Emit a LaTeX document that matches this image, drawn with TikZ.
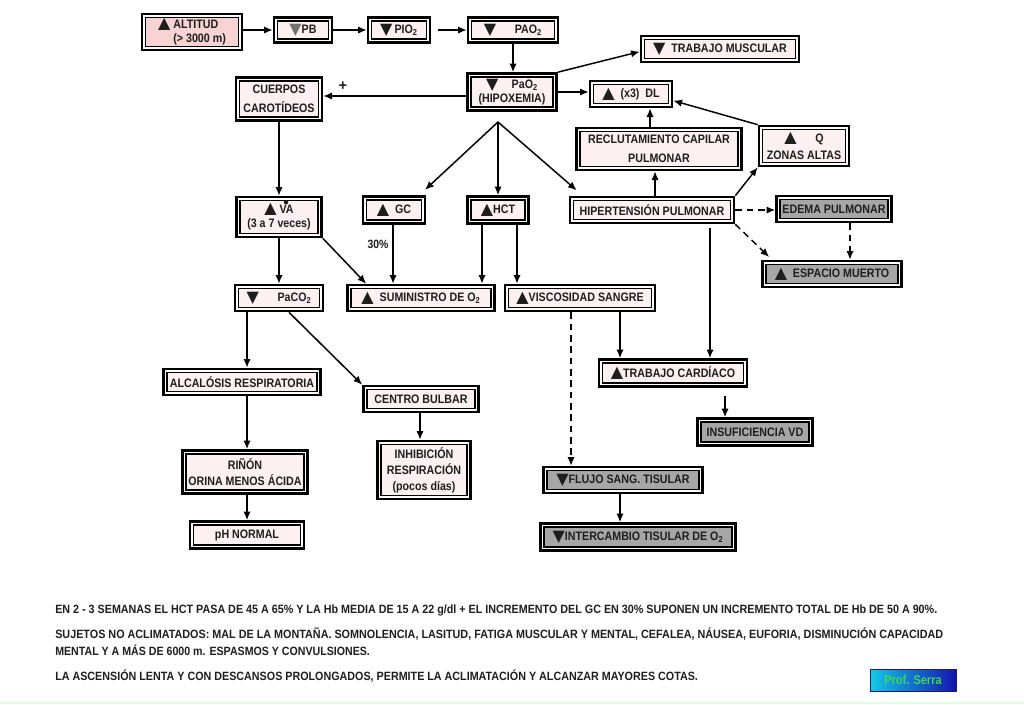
\documentclass[tikz,border=0pt]{standalone}
\usepackage{fontspec}
\usepackage{graphicx}
\setmainfont{Liberation Sans}
\newfontfamily\nf[FakeStretch=0.87]{Liberation Sans}
\newfontfamily\symf{DejaVu Sans}
\usetikzlibrary{arrows.meta,calc}
\definecolor{boxfill}{HTML}{FCF0F0}
\definecolor{altfill}{HTML}{F7D3D3}
\definecolor{grayfill}{HTML}{A6A6A6}
\definecolor{txt}{HTML}{1E1E1E}
\definecolor{profborder}{HTML}{1A1A70}
\definecolor{profleft}{HTML}{14C8E6}
\definecolor{profright}{HTML}{1414AF}
\definecolor{proftext}{HTML}{3CD75A}
\newcommand\tup{{\symf\fontsize{12}{12}\selectfont\raisebox{-0.5pt}{▲}}}
\newcommand\tdn{{\symf\fontsize{12}{12}\selectfont\raisebox{-0.5pt}{▼}}}
\newcommand\tdng{{\color{black!55}\symf\fontsize{12}{12}\selectfont\raisebox{-0.5pt}{▼}}}
\newcommand\btxt{\nf\bfseries\fontsize{9}{10}\selectfont}
\tikzset{
  box/.style={draw=black, line width=1.1pt, double=white, double distance=1.1pt,
    preaction={draw=black, line width=5pt}, fill=boxfill, inner sep=0pt,
    outer sep=2.5pt, align=center, text=txt,
    font=\nf\bfseries\fontsize{9.2}{11}\selectfont},
  gbox/.style={box, fill=grayfill},
  wh/.style 2 args={minimum width={(#1-6)*0.75}, minimum height={(#2-6)*0.75}},
  arr/.style={-{Latex[length=6.5pt,width=5.5pt]}, line width=1.1pt},
  darr/.style={arr, dash pattern=on 5pt off 3.5pt},
  lbl/.style={font=\nf\bfseries\fontsize{9}{10}\selectfont, inner sep=0pt, text=txt}
}
\begin{document}
\begin{tikzpicture}[x=0.75pt,y=-0.75pt]
\useasboundingbox (0,0) rectangle (1024,704);
\fill[white] (0,0) rectangle (1024,704);
\draw[green!12, line width=1pt] (0,703) -- (1024,703);

% top row
\node[box, wh={102}{38}, fill=altfill, align=left] (alt) at (192,32) {\tup\ ALTITUD\\[0pt]\phantom{\tup\ }(> 3000 m)};
\node[box, wh={60}{27}] (pb) at (303,30) {\tdng PB};
\node[box, wh={64}{27}] (pio) at (399,30) {\tdn\,PIO\textsubscript{2}};
\node[box, wh={92}{27}] (pao) at (513,30) {\tdn\hspace{14pt}PAO\textsubscript{2}};

\node[box, wh={91}{39}] (pa) at (512,92) {\tdn\hspace{10pt}PaO\textsubscript{2}\\[-1pt](HIPOXEMIA)};
\node[box, wh={160}{28}] (tm) at (720,49) {\tdn\ \ TRABAJO MUSCULAR};
\node[box, wh={84}{28}] (dl) at (631,94) {\tup\ \ (x3)\ \ DL};
\node[box, wh={88}{45}] (cue) at (279,99) {CUERPOS\\[3pt]CAROTÍDEOS};
\node[box, wh={167}{44}] (rec) at (659,149) {RECLUTAMIENTO CAPILAR\\[3pt]PULMONAR};
\node[box, wh={92}{42}] (q) at (804,146) {\tup\hspace{14pt}Q\\[2pt]ZONAS ALTAS};

% middle
\node[box, wh={87}{42}] (va) at (279,217) {\tup\ VA\\[0pt](3 a 7 veces)};
\fill[txt] ($(va.center)+(7,-14.8)$) circle (2.2);
\node[box, wh={64}{29}] (gc) at (394,210) {\tup\ \ GC};
\node[box, wh={63}{29}] (hct) at (498,210) {\tup HCT};
\node[box, wh={166}{28}] (hip) at (652,210) {HIPERTENSIÓN PULMONAR};
\node[gbox, wh={117}{28}] (ede) at (834,209) {EDEMA PULMONAR};
\node[gbox, wh={141}{28}] (esp) at (832,274) {\tup\ \ ESPACIO MUERTO};

\node[box, wh={90}{28}] (paco) at (279,298) {\tdn\hspace{14pt}PaCO\textsubscript{2}};
\node[box, wh={149}{28}] (sum) at (421,298) {\tup\ \ SUMINISTRO DE O\textsubscript{2}};
\node[box, wh={152}{28}] (visc) at (580,298) {\tup VISCOSIDAD SANGRE};

\node[box, wh={150}{29}] (tc) at (673,373) {\tup TRABAJO CARDÍACO};
\node[gbox, wh={117}{29}] (ins) at (755,432) {INSUFICIENCIA VD};
\node[box, wh={159}{28}] (alc) at (242,382) {ALCALÓSIS RESPIRATORIA};
\node[box, wh={117}{28}] (cb) at (421,399) {CENTRO BULBAR};
\node[box, wh={95}{60}] (inh) at (424,470) {INHIBICIÓN\\[1pt]RESPIRACIÓN\\[1pt](pocos días)};
\node[box, wh={127}{45}] (rin) at (245,472) {RIÑÓN\\[1pt]ORINA MENOS ÁCIDA};
\node[box, wh={116}{29}] (ph) at (247,535) {pH NORMAL};
\node[gbox, wh={161}{28}] (flu) at (623,480) {\tdn FLUJO SANG. TISULAR};
\node[gbox, wh={197}{29}] (int) at (638,537) {\tdn INTERCAMBIO TISULAR DE O\textsubscript{2}};

% labels
\node[lbl, font=\bfseries\fontsize{11}{11}\selectfont] (plus) at (343,86) {+};
\node[lbl] (pct) at (378,244) {30\%};

% connectors
\draw[arr] (alt.east |- pb.west) -- (pb.west);
\draw[arr] (pb.east) -- (pio.west);
\draw[arr, shorten <=5pt] (pio.east) -- (pao.west);
\draw[arr] (pao.south) -- (pao.south |- pa.north);
\draw[arr] ([yshift=-3pt]pa.west) -- ([yshift=-3pt]pa.west -| cue.east);
\draw[arr] (pa.north east) -- ([yshift=-2pt]tm.west);
\draw[arr] (pa.east) -- (pa.east -| dl.west);
\draw[arr] ([xshift=-6.75pt]rec.north) -- ([xshift=-6.75pt]rec.north |- dl.south);
\draw[arr] (q.north west) -- ([yshift=-5pt]dl.east);

\coordinate (apex) at (498,122);
\draw[arr] (apex) -- ([xshift=-1pt,yshift=4pt]gc.north east);
\draw[arr] (apex) -- (apex |- hct.north);
\draw[arr] (apex) -- ([xshift=6pt,yshift=4pt]hip.north west);

\draw[arr] (cue.south) -- (va.north);
\draw[arr] (va.south) -- (paco.north);
\draw[arr] (va.south east) -- ([xshift=15pt]sum.north west);
\draw[arr] ([xshift=-0.75pt]gc.south) -- ([xshift=-0.75pt]gc.south |- sum.north);
\draw[arr] ([xshift=-12pt]hct.south) -- ([xshift=-12pt]hct.south |- sum.north);
\draw[arr] ([xshift=14.25pt]hct.south) -- ([xshift=14.25pt]hct.south |- visc.north);

\draw[arr] ([xshift=2.25pt]hip.north) -- ([xshift=2.25pt]hip.north |- rec.south);
\draw[arr] (hip.north east) -- (q.south west);
\draw[darr] (hip.east) -- (hip.east -| ede.west);
\draw[darr] (hip.south east) -- ([xshift=6pt,yshift=2pt]esp.north west);
\draw[darr] ([xshift=12pt]ede.south) -- ([xshift=12pt]ede.south |- esp.north);
\draw[arr, shorten <=3pt] ([xshift=43.5pt]hip.south) -- ([xshift=43.5pt]hip.south |- tc.north);
\draw[arr] ([xshift=30pt]visc.south) -- ([xshift=30pt]visc.south |- tc.north);
\draw[darr] ([xshift=-6.75pt]visc.south) -- ([xshift=-6.75pt]visc.south |- flu.north);
\draw[arr, shorten <=6pt] ([xshift=39pt]tc.south) -- ([xshift=39pt]tc.south |- ins.north);
\draw[arr] ([xshift=-2.25pt]flu.south) -- ([xshift=-2.25pt]flu.south |- int.north);

\draw[arr] ([xshift=-24pt]paco.south) -- ([xshift=-24pt]paco.south |- alc.north);
\draw[arr] ([xshift=7.5pt]paco.south) -- (cb.north west);
\draw[arr] ([xshift=3.75pt]alc.south) -- ([xshift=3.75pt]alc.south |- rin.north);
\draw[arr] ([xshift=-0.75pt]cb.south) -- ([xshift=-0.75pt]cb.south |- inh.north);
\draw[arr] ([xshift=1.5pt]rin.south) -- ([xshift=1.5pt]rin.south |- ph.north);

% bottom text
\node[anchor=base west, inner sep=0pt, text=txt] (t1) at (55,613) {\resizebox{661.5pt}{\height}{\btxt EN 2 - 3 SEMANAS EL HCT PASA DE 45 A 65\% Y LA Hb MEDIA DE 15 A 22 g/dl + EL INCREMENTO DEL GC EN 30\% SUPONEN UN INCREMENTO TOTAL DE Hb DE 50 A 90\%.}};
\node[anchor=base west, inner sep=0pt, text=txt] (t2) at (55,638) {\resizebox{666pt}{\height}{\btxt SUJETOS NO ACLIMATADOS: MAL DE LA MONTAÑA. SOMNOLENCIA, LASITUD, FATIGA MUSCULAR Y MENTAL, CEFALEA, NÁUSEA, EUFORIA, DISMINUCIÓN CAPACIDAD}};
\node[anchor=base west, inner sep=0pt, text=txt] (t3) at (55,655) {\resizebox{236pt}{\height}{\btxt MENTAL Y A MÁS DE 6000 m. ESPASMOS Y CONVULSIONES.}};
\node[anchor=base west, inner sep=0pt, text=txt] (t4) at (55,680) {\resizebox{482pt}{\height}{\btxt LA ASCENSIÓN LENTA Y CON DESCANSOS PROLONGADOS, PERMITE LA ACLIMATACIÓN Y ALCANZAR MAYORES COTAS.}};

\node[draw=profborder, line width=0.6pt, left color=profleft, right color=profright,
  minimum width=64.5pt, minimum height=16.5pt, inner sep=0pt,
  font=\nf\bfseries\fontsize{9.5}{10}\selectfont, text=proftext] (prof) at (913,680) {Prof. Serra};
\end{tikzpicture}
\end{document}
